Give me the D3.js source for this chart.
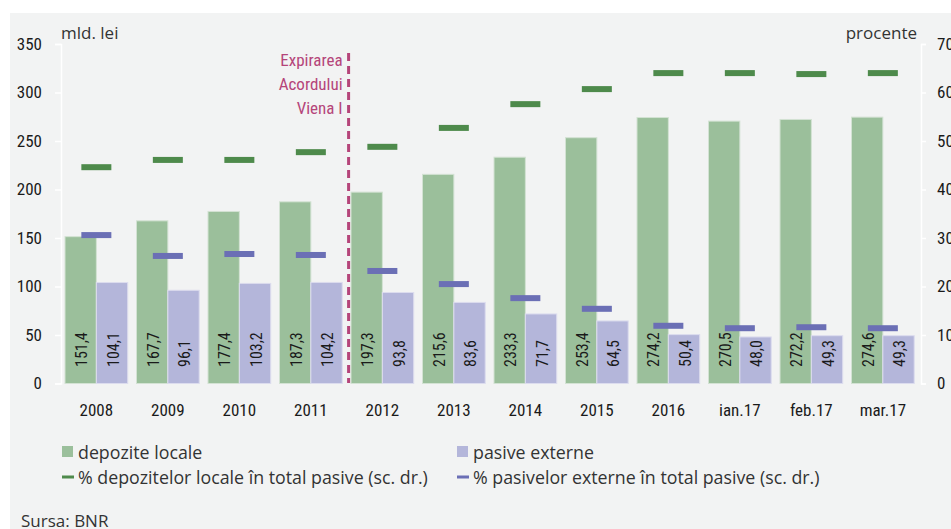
<!DOCTYPE html>
<html>
<head>
<meta charset="utf-8">
<script src="https://cdn.jsdelivr.net/npm/d3@7/dist/d3.min.js"></script>
<style>
  body { margin: 0; background: #fff; }
  svg { display: block; }
  .narrow { font-family: "Liberation Sans Narrow", "Roboto Condensed", "Liberation Sans", sans-serif; }
  .soft { font-family: "Open Sans", "Noto Sans", sans-serif; }
</style>
</head>
<body>
<svg width="951" height="529"></svg>
<script>
// categories and series
const categories = ['2008', '2009', '2010', '2011', '2012', '2013', '2014', '2015', '2016', 'ian.17', 'feb.17', 'mar.17'];
const depoziteLocale = [151.4, 167.7, 177.4, 187.3, 197.3, 215.6, 233.3, 253.4, 274.2, 270.5, 272.2, 274.6];
const pasiveExterne = [104.1, 96.1, 103.2, 104.2, 93.8, 83.6, 71.7, 64.5, 50.4, 48.0, 49.3, 49.3];
// right scale, percent of total liabilities
const pctDepozite = [44.6, 46.1, 46.1, 47.7, 48.8, 52.7, 57.6, 60.7, 64.0, 64.0, 63.8, 64.0];
const pctPasive = [30.6, 26.3, 26.7, 26.5, 23.2, 20.5, 17.6, 15.4, 11.9, 11.4, 11.6, 11.4];
const leftTicks = [0, 50, 100, 150, 200, 250, 300, 350];
const rightTicks = [0, 10, 20, 30, 40, 50, 60, 70];

const C = {
  bg: '#f2f3f3',
  green: '#9bbf9b',
  purple: '#b4b6da',
  greenDash: '#4e8a4b',
  purpleDash: '#6b6fb5',
  marker: '#b5457a',
  text: '#1a1a1a',
};

const svg = d3.select('svg');
svg.append('rect').attr('x', 10).attr('y', 13).attr('width', 941).attr('height', 516).attr('fill', C.bg);

const y = d3.scaleLinear().domain([0, 350]).range([383.5, 44]);
const y2 = d3.scaleLinear().domain([0, 70]).range([383.5, 44]);
const x = d3.scaleBand().domain(categories).range([60.6, 918.6]).paddingInner(0.123).paddingOuter(0.0615);
const xs = d3.scaleBand().domain(['d', 'p']).range([0, x.bandwidth()]);

const rows = categories.map((c, i) => ({
  c, d: depoziteLocale[i], p: pasiveExterne[i], pd: pctDepozite[i], pp: pctPasive[i],
}));

// axes (white on grey panel)
const axL = svg.append('g').attr('transform', 'translate(61,0)')
  .call(d3.axisLeft(y).tickValues(leftTicks).tickSize(6).tickPadding(13));
const axR = svg.append('g').attr('transform', 'translate(921,0)')
  .call(d3.axisRight(y2).tickValues(rightTicks).tickSize(5).tickPadding(11));
[axL, axR].forEach((g) => {
  g.select('.domain').attr('stroke', '#fff').attr('stroke-width', 1.5);
  g.selectAll('.tick line').attr('stroke', '#fff').attr('stroke-width', 1.5);
  g.selectAll('.tick text').attr('class', 'narrow').attr('font-size', 17).attr('fill', C.text);
});

// bars
const grp = svg.selectAll('.grp').data(rows).enter().append('g')
  .attr('transform', d => `translate(${x(d.c)},0)`);
grp.append('rect')
  .attr('x', xs('d')).attr('width', xs.bandwidth())
  .attr('y', d => y(d.d)).attr('height', d => y(0) - y(d.d))
  .attr('fill', C.green).attr('stroke', '#d3e2d3').attr('stroke-width', 1);
grp.append('rect')
  .attr('x', xs('p')).attr('width', xs.bandwidth())
  .attr('y', d => y(d.p)).attr('height', d => y(0) - y(d.p))
  .attr('fill', C.purple).attr('stroke', '#dcdcee').attr('stroke-width', 1);

const fmt = v => v.toFixed(1).replace('.', ',');
[['d', 'd'], ['p', 'p']].forEach(([k, s]) => {
  grp.append('text')
    .attr('class', 'narrow')
    .attr('transform', `translate(${xs(s) + xs.bandwidth() / 2 + 1},367) rotate(-90)`)
    .attr('dominant-baseline', 'central')
    .attr('font-size', 16).attr('fill', C.text)
    .text(d => fmt(d[k]));
});

// percentage markers
grp.append('rect')
  .attr('x', x.bandwidth() / 2 - 15).attr('width', 30)
  .attr('y', d => y2(d.pd) - 3).attr('height', 6).attr('fill', C.greenDash);
grp.append('rect')
  .attr('x', x.bandwidth() / 2 - 15).attr('width', 30)
  .attr('y', d => y2(d.pp) - 3).attr('height', 6).attr('fill', C.purpleDash);

// category labels
grp.append('text').attr('class', 'narrow')
  .attr('x', x.bandwidth() / 2).attr('y', 416)
  .attr('text-anchor', 'middle').attr('font-size', 17).attr('fill', C.text)
  .text(d => d.c);

// Vienna marker
const vx = (x('2011') + x.bandwidth() + x('2012')) / 2 + 2;
svg.append('line').attr('x1', vx).attr('x2', vx).attr('y1', 53).attr('y2', 383)
  .attr('stroke', C.marker).attr('stroke-width', 3).attr('stroke-dasharray', '8,5');
['Expirarea', 'Acordului', 'Viena I'].forEach((t, i) => {
  svg.append('text').attr('class', 'narrow')
    .attr('x', vx - 6).attr('y', 66 + i * 24)
    .attr('text-anchor', 'end').attr('font-size', 17).attr('fill', C.marker)
    .text(t);
});

// unit labels
svg.append('text').attr('class', 'soft').attr('x', 61).attr('y', 39)
  .attr('font-size', 17).attr('fill', '#333').text('mld. lei');
svg.append('text').attr('class', 'soft').attr('x', 917).attr('y', 39)
  .attr('text-anchor', 'end').attr('font-size', 17).attr('fill', '#333').text('procente');

// legend
const legend = [
  { x: 62, y: 452, type: 'box', color: C.green, label: 'depozite locale' },
  { x: 457, y: 452, type: 'box', color: C.purple, label: 'pasive externe' },
  { x: 62, y: 477, type: 'dash', color: C.greenDash, label: '% depozitelor locale în total pasive (sc. dr.)' },
  { x: 457, y: 477, type: 'dash', color: C.purpleDash, label: '% pasivelor externe în total pasive (sc. dr.)' },
];
legend.forEach((l) => {
  if (l.type === 'box') {
    svg.append('rect').attr('x', l.x).attr('y', l.y - 6).attr('width', 11).attr('height', 11).attr('fill', l.color);
  } else {
    svg.append('rect').attr('x', l.x).attr('y', l.y - 1.5).attr('width', 12).attr('height', 3).attr('fill', l.color);
  }
  svg.append('text').attr('class', 'soft').attr('x', l.x + 16).attr('y', l.y)
    .attr('dominant-baseline', 'central').attr('font-size', 17.8).attr('fill', '#333')
    .text(l.label);
});

svg.append('text').attr('class', 'soft').attr('x', 21).attr('y', 520)
  .attr('dominant-baseline', 'central').attr('font-size', 17).attr('fill', '#333')
  .text('Sursa: BNR');
</script>
</body>
</html>
